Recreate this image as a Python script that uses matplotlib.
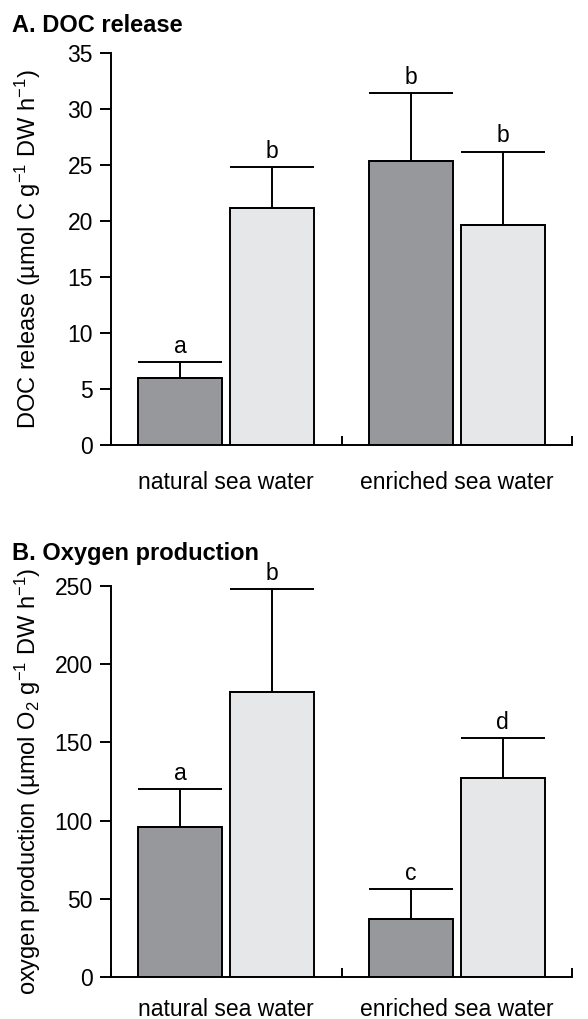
import matplotlib
matplotlib.use("Agg")
import matplotlib.pyplot as plt
import numpy as np

plt.rcParams['font.family'] = ['Liberation Sans', 'DejaVu Sans']
plt.rcParams['mathtext.fontset'] = 'custom'
plt.rcParams['mathtext.rm'] = 'Liberation Sans'
plt.rcParams['mathtext.it'] = 'Liberation Sans:italic'
plt.rcParams['mathtext.bf'] = 'Liberation Sans:bold'

# ---- data ----
groups = ["natural sea water", "enriched sea water"]
doc_mean = [6.0, 21.2, 25.4, 19.6]
doc_err = [1.4, 3.6, 6.0, 6.6]
doc_letters = ["a", "b", "b", "b"]
oxy_mean = [96, 182, 37, 127]
oxy_err = [24, 66, 19, 26]
oxy_letters = ["a", "b", "c", "d"]
bar_x = [0.3, 0.7, 1.3, 1.7]
bar_colors = ["#97989b", "#e6e7e8", "#97989b", "#e6e7e8"]

W, H = 588, 1019
fig = plt.figure(figsize=(W / 100, H / 100), dpi=100)

def axes_px(left, right, top, bottom):
    return fig.add_axes([left / W, 1 - bottom / H, (right - left) / W, (bottom - top) / H])

axA = axes_px(111, 572, 53, 445)
axB = axes_px(111, 572, 586, 977)

FS = 16.5
LW = 1.4

def draw(ax, means, errs, letters, ymax, ystep, ylabel, xpad):
    width = 0.365
    capsize = (84 * 0.72) / 2
    ax.bar(bar_x, means, width=width, color=bar_colors, edgecolor="black", linewidth=LW,
           yerr=[np.zeros(len(errs)), errs],
           error_kw=dict(elinewidth=LW, capthick=LW, capsize=capsize, ecolor="black"),
           zorder=2)
    for x, m, e, l in zip(bar_x, means, errs, letters):
        ax.annotate(l, (x, m + e), xytext=(0, 3), textcoords="offset points",
                    ha="center", va="bottom", fontsize=FS)
    ax.set_xlim(0, 2)
    ax.set_ylim(0, ymax)
    ax.set_yticks(np.arange(0, ymax + 1e-9, ystep))
    ax.tick_params(axis="y", direction="out", length=8, width=LW, labelsize=FS, pad=5)
    ax.set_xticks([0, 1, 2])
    ax.set_xticklabels([])
    ax.tick_params(axis="x", which="major", direction="in", length=6.5, width=LW)
    ax.set_xticks([0.5, 1.5], minor=True)
    ax.set_xticklabels(groups, minor=True, fontsize=FS)
    ax.tick_params(axis="x", which="minor", length=0, pad=xpad)
    for s in ["top", "right"]:
        ax.spines[s].set_visible(False)
    for s in ["left", "bottom"]:
        ax.spines[s].set_linewidth(LW)
    ax.set_ylabel(ylabel, fontsize=17)
    ax.yaxis.set_label_coords(-68 / 461, 0.5)

draw(axA, doc_mean, doc_err, doc_letters, 35, 5,
     "DOC release (µmol C g$^{-1}$ DW h$^{-1}$)", 19)
draw(axB, oxy_mean, oxy_err, oxy_letters, 250, 50,
     "oxygen production (µmol O$_2$ g$^{-1}$ DW h$^{-1}$)", 15)

fig.text(12 / W, 1 - 32 / H, "A. DOC release", fontsize=17, fontweight="bold",
         ha="left", va="baseline")
fig.text(12 / W, 1 - 560 / H, "B. Oxygen production", fontsize=17, fontweight="bold",
         ha="left", va="baseline")

fig.savefig("out.png", dpi=100)
